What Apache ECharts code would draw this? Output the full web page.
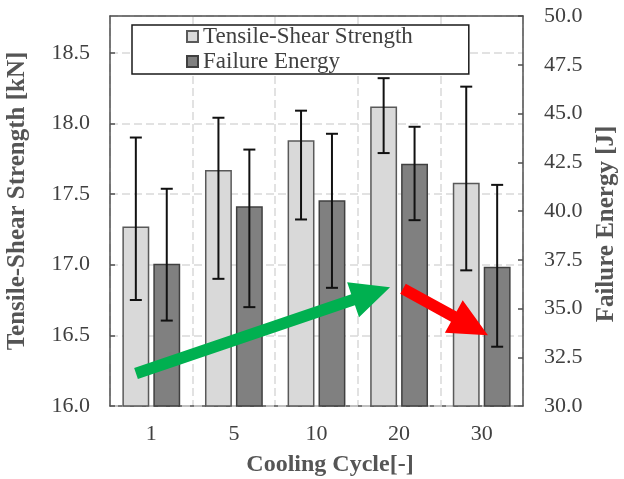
<!DOCTYPE html>
<html>
<head>
<meta charset="utf-8">
<script src="https://cdn.jsdelivr.net/npm/echarts@6/dist/echarts.min.js"></script>
<style>html,body{margin:0;padding:0;background:#fff;}#c{width:624px;height:479px;}</style>
</head>
<body>
<div id="c"></div>
<script>
// ---- data ----
const categories = ['1', '5', '10', '20', '30'];
const strength = [17.27, 17.67, 17.88, 18.12, 17.58];
const strengthLow = [16.75, 16.90, 17.32, 17.79, 16.96];
const strengthHigh = [17.90, 18.04, 18.09, 18.32, 18.26];
const energy = [37.30, 40.25, 40.55, 42.42, 37.14];
const energyLow = [34.38, 35.07, 36.06, 39.53, 33.04];
const energyHigh = [41.14, 43.15, 43.96, 44.32, 41.34];
// arrows in data space: [category position, strength value]
const greenArrow = [[-0.185, 16.23], [2.89, 16.84]];
const redArrow = [[3.047, 16.83], [4.076, 16.50]];
const leftTicks = [16.0, 16.5, 17.0, 17.5, 18.0, 18.5];
const rightTicks = [30.0, 32.5, 35.0, 37.5, 40.0, 42.5, 45.0, 47.5, 50.0];

const FONT = '"Liberation Serif", "Times New Roman", serif';
const AXC = '#505050';
const BAR_CAT_GAP = 0.30, BAR_GAP = 0.15;

const chart = echarts.init(document.getElementById('c'), null, {renderer: 'canvas'});

function errRender(sign) {
  return function (params, api) {
    const i = api.value(0);
    const band = api.size([1, 0])[0];
    const bw = band * (1 - BAR_CAT_GAP) / (2 + BAR_GAP);
    const off = sign * bw * (1 + BAR_GAP) / 2;
    const lo = api.coord([i, api.value(1)]);
    const hi = api.coord([i, api.value(2)]);
    const x = lo[0] + off;
    const cap = 6;
    const st = {stroke: '#111', lineWidth: 2};
    return {
      type: 'group',
      children: [
        {type: 'line', shape: {x1: x, y1: lo[1], x2: x, y2: hi[1]}, style: st},
        {type: 'line', shape: {x1: x - cap, y1: lo[1], x2: x + cap, y2: lo[1]}, style: st},
        {type: 'line', shape: {x1: x - cap, y1: hi[1], x2: x + cap, y2: hi[1]}, style: st}
      ]
    };
  };
}

function arrowRender(params, api) {
  const p0 = api.coord([api.value(0), api.value(1)]);
  const p1 = api.coord([api.value(2), api.value(3)]);
  const color = api.value(4) === 0 ? '#00b050' : '#ff0000';
  const dx = p1[0] - p0[0], dy = p1[1] - p0[1];
  const len = Math.sqrt(dx * dx + dy * dy);
  const ux = dx / len, uy = dy / len;
  const nx = -uy, ny = ux;
  const w = 5.8, h = 18.5, L = 39;
  const bx = p1[0] - ux * L, by = p1[1] - uy * L;
  const pts = [
    [p0[0] + nx * w, p0[1] + ny * w],
    [bx + nx * w, by + ny * w],
    [bx + nx * h, by + ny * h],
    [p1[0], p1[1]],
    [bx - nx * h, by - ny * h],
    [bx - nx * w, by - ny * w],
    [p0[0] - nx * w, p0[1] - ny * w]
  ];
  return {type: 'polygon', shape: {points: pts}, style: {fill: color}};
}

const splitStyle = {show: true, lineStyle: {color: '#d9d9d9', width: 1.5, type: [8, 4]}};
const frameLine = {show: true, onZero: false, lineStyle: {color: AXC, width: 1.5}};

chart.setOption({
  animation: false,
  backgroundColor: '#fff',
  grid: {left: 110, right: 101, top: 16, bottom: 73, show: false},
  legend: {
    orient: 'vertical', z: 40,
    left: 132, top: 25,
    padding: [0, 56, 1, 54],
    itemGap: 2,
    itemWidth: 11, itemHeight: 11,
    icon: 'rect',
    backgroundColor: '#fff',
    borderColor: '#1a1a1a', borderWidth: 1.5,
    textStyle: {fontFamily: FONT, fontSize: 23, color: '#404040'},
    data: ['Tensile-Shear Strength', 'Failure Energy']
  },
  xAxis: [{
    type: 'category',
    data: categories,
    axisLine: frameLine,
    axisTick: {inside: true, length: 5, lineStyle: {color: AXC, width: 1.5}},
    axisLabel: {fontFamily: FONT, fontSize: 22, color: '#404040', margin: 17},
    splitLine: splitStyle
  }, {
    type: 'value', min: -0.5, max: 4.5, position: 'top', z: 21,
    axisLine: frameLine,
    axisTick: {show: false}, axisLabel: {show: false}, splitLine: {show: false}
  }],
  yAxis: [{
    type: 'value', min: leftTicks[0], max: 18.76, interval: 0.5, z: 20,
    axisLine: frameLine,
    axisTick: {show: true, inside: true, length: 5, lineStyle: {color: AXC, width: 1.5}},
    axisLabel: {fontFamily: FONT, fontSize: 22, color: '#404040', margin: 20, showMaxLabel: false,
      formatter: v => leftTicks.some(t => Math.abs(t - v) < 1e-6) ? v.toFixed(1) : ''},
    splitLine: splitStyle
  }, {
    type: 'value', min: rightTicks[0], max: rightTicks[rightTicks.length - 1], interval: 2.5,
    position: 'right', z: 20,
    axisLine: frameLine,
    axisTick: {show: true, inside: true, length: 5, lineStyle: {color: AXC, width: 1.5}},
    axisLabel: {fontFamily: FONT, fontSize: 22, color: '#404040', margin: 21, formatter: v => v.toFixed(1)},
    splitLine: {show: false}
  }],
  graphic: [
    {type: 'text', x: 18, y: 201, rotation: Math.PI / 2, z: 10,
      style: {text: 'Tensile-Shear Strength [kN]', fill: '#555', font: 'bold 25px ' + FONT,
        align: 'center', verticalAlign: 'middle', textAlign: 'center', textVerticalAlign: 'middle'}},
    {type: 'text', x: 607, y: 224, rotation: Math.PI / 2, z: 10,
      style: {text: 'Failure Energy [J]', fill: '#555', font: 'bold 25px ' + FONT,
        align: 'center', verticalAlign: 'middle', textAlign: 'center', textVerticalAlign: 'middle'}},
    {type: 'text', x: 330, y: 465, z: 10,
      style: {text: 'Cooling Cycle[-]', fill: '#555', font: 'bold 24px ' + FONT,
        align: 'center', verticalAlign: 'middle', textAlign: 'center', textVerticalAlign: 'middle'}}
  ],
  series: [
    {
      name: 'Tensile-Shear Strength', type: 'bar', xAxisIndex: 0, yAxisIndex: 0, z: 25,
      data: strength,
      barGap: (BAR_GAP * 100) + '%', barCategoryGap: (BAR_CAT_GAP * 100) + '%',
      itemStyle: {color: '#d9d9d9', borderColor: '#595959', borderWidth: 1.5}
    },
    {
      name: 'Failure Energy', type: 'bar', xAxisIndex: 0, yAxisIndex: 1, z: 25,
      data: energy,
      barGap: (BAR_GAP * 100) + '%', barCategoryGap: (BAR_CAT_GAP * 100) + '%',
      itemStyle: {color: '#808080', borderColor: '#404040', borderWidth: 1.5}
    },
    {
      type: 'custom', xAxisIndex: 0, yAxisIndex: 0, z: 26,
      renderItem: errRender(-1),
      data: categories.map((c, i) => [i, strengthLow[i], strengthHigh[i]])
    },
    {
      type: 'custom', xAxisIndex: 0, yAxisIndex: 1, z: 26,
      renderItem: errRender(1),
      data: categories.map((c, i) => [i, energyLow[i], energyHigh[i]])
    },
    {
      type: 'custom', xAxisIndex: 1, yAxisIndex: 0, z: 27,
      renderItem: arrowRender,
      data: [
        [greenArrow[0][0], greenArrow[0][1], greenArrow[1][0], greenArrow[1][1], 0],
        [redArrow[0][0], redArrow[0][1], redArrow[1][0], redArrow[1][1], 1]
      ]
    }
  ]
});
</script>
</body>
</html>
